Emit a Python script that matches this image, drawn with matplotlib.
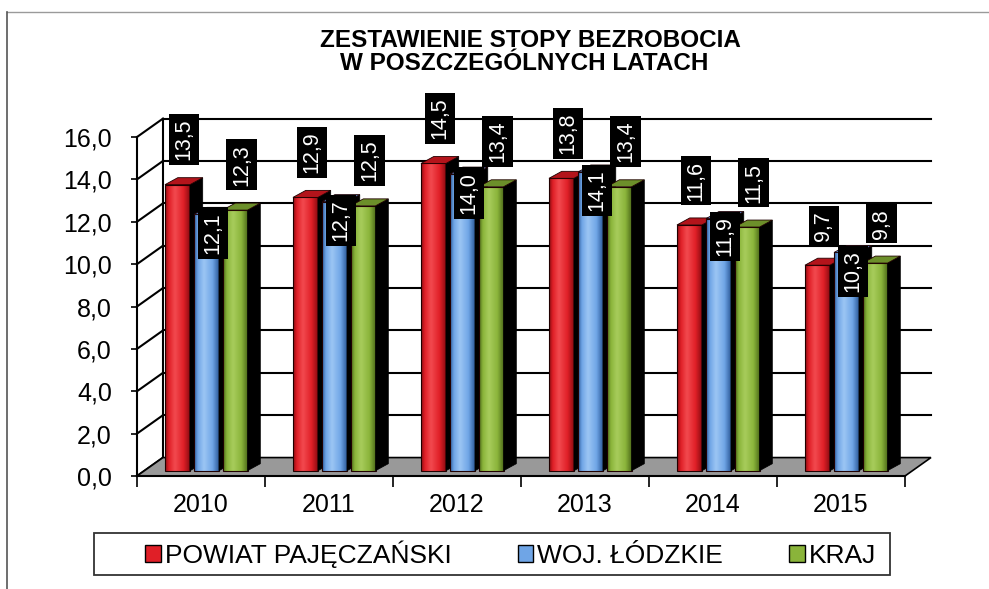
import numpy as np
import matplotlib
matplotlib.use("Agg")
import matplotlib.pyplot as plt
from matplotlib.patches import Polygon, Patch, Rectangle
from matplotlib.colors import LinearSegmentedColormap
from matplotlib.lines import Line2D

# ---- data ----
years = ['2010', '2011', '2012', '2013', '2014', '2015']
powiat = [13.5, 12.9, 14.5, 13.8, 11.6, 9.7]
woj = [12.1, 12.7, 14.0, 14.1, 11.9, 10.3]
kraj = [12.3, 12.5, 13.4, 13.4, 11.5, 9.8]
series_names = ['POWIAT PAJĘCZAŃSKI', 'WOJ. ŁÓDZKIE', 'KRAJ']
yticks = [0, 2, 4, 6, 8, 10, 12, 14, 16]
title1 = 'ZESTAWIENIE STOPY BEZROBOCIA'
title2 = 'W POSZCZEGÓLNYCH LATACH'

plt.rcParams['font.family'] = ['Liberation Sans', 'DejaVu Sans']

W, H = 989, 589
fig = plt.figure(figsize=(W / 100, H / 100), dpi=100)
fig.patch.set_facecolor('white')
ax = fig.add_axes([137 / W, 1 - 476 / H, 768 / W, 339 / H])
ax.set_xlim(-0.5, 5.5)
ax.set_ylim(0, 16)
ax.set_facecolor('none')

# 3D projection offsets (data units)
dxw, dyw = 0.203, 0.87      # wall depth
bdx, bdy = 0.10, 0.33       # bar depth
lift = 0.25                 # bars sit mid-depth on the floor
bw = 0.195
offsets = [-0.184, 0.043, 0.266]

# walls / gridlines
for v in yticks:
    ax.plot([-0.5, -0.5 + dxw], [v, v + dyw], color='black', lw=1.5, clip_on=False, zorder=1)
for v in yticks[1:]:
    ax.plot([-0.5 + dxw, 5.5 + dxw], [v + dyw, v + dyw], color='black', lw=1.5, clip_on=False, zorder=1)
ax.plot([-0.5 + dxw, -0.5 + dxw], [dyw, 16 + dyw], color='black', lw=1.5, clip_on=False, zorder=1)

# floor
floor = Polygon([(-0.5, 0), (5.5, 0), (5.5 + dxw, dyw), (-0.5 + dxw, dyw)],
                closed=True, fc='#999999', ec='black', lw=1.2, zorder=2, clip_on=False)
ax.add_patch(floor)

palettes = [
    dict(dark='#8e0c12', mid='#e01f27', light='#f24a4f', cap='#b3141b'),
    dict(dark='#2f5d9c', mid='#6fa5e6', light='#9cc6f4', cap='#5286cc'),
    dict(dark='#4d6a1a', mid='#8ab43a', light='#a8cc5c', cap='#6c8f2a'),
]


def draw_bar(x0, base, h, pal, z):
    cmap = LinearSegmentedColormap.from_list(
        'c', [(0, pal['dark']), (0.15, pal['mid']), (0.4, pal['light']),
              (0.75, pal['mid']), (1, pal['dark'])])
    grad = np.linspace(0, 1, 64).reshape(1, -1)
    ax.imshow(grad, extent=(x0, x0 + bw, base, base + h), cmap=cmap, aspect='auto',
              origin='lower', zorder=z, interpolation='bicubic')
    ax.add_patch(Rectangle((x0, base), bw, h, fill=False, ec='#200000', lw=0.8, zorder=z + 0.01))
    side = Polygon([(x0 + bw, base), (x0 + bw + bdx, base + bdy),
                    (x0 + bw + bdx, base + h + bdy), (x0 + bw, base + h)],
                   closed=True, fc='black', ec='black', lw=0.5, zorder=z + 0.02)
    ax.add_patch(side)
    cap = Polygon([(x0, base + h), (x0 + bw, base + h), (x0 + bw + bdx, base + h + bdy),
                   (x0 + bdx, base + h + bdy)],
                  closed=True, fc=pal['cap'], ec='#200000', lw=0.6, zorder=z + 0.03)
    ax.add_patch(cap)


def fmt(v):
    return f'{v:.1f}'.replace('.', ',')


series = [powiat, woj, kraj]
for i in range(len(years)):
    for j, vals in enumerate(series):
        v = vals[i]
        x0 = i + offsets[j] - bw / 2
        draw_bar(x0, lift, v, palettes[j], 3 + j * 0.1)
        top = lift + v
        xc = i + offsets[j] + 0.05
        box = dict(boxstyle='square,pad=0.22', fc='black', ec='none')
        if j == 1:
            ax.text(xc, top + 0.1, fmt(v), rotation=90, ha='center', va='top',
                    color='white', fontsize=15.5, bbox=box, zorder=10, clip_on=False)
        else:
            ax.text(xc, top + 1.15, fmt(v), rotation=90, ha='center', va='bottom',
                    color='white', fontsize=15.5, bbox=box, zorder=10, clip_on=False)

ax.set_xlim(-0.5, 5.5)
ax.set_ylim(0, 16)

# axes styling
for s in ['top', 'right']:
    ax.spines[s].set_visible(False)
for s in ['left', 'bottom']:
    ax.spines[s].set_linewidth(1.5)
    ax.spines[s].set_zorder(2.5)
ax.set_yticks(yticks)
ax.set_yticklabels([fmt(v) for v in yticks])
ax.tick_params(axis='y', length=4, width=1.2, pad=14, labelsize=18, direction='out')
ax.set_xticks(range(len(years)))
ax.set_xticklabels(years)
ax.tick_params(axis='x', which='major', length=0, pad=12, labelsize=18)
ax.set_xticks(np.arange(-0.5, 6, 1), minor=True)
ax.tick_params(axis='x', which='minor', length=8, width=1.2, direction='out')

# title
fig.text(530 / W, 1 - 47 / H, title1, ha='center', va='baseline', fontsize=17.5, fontweight='bold')
fig.text(524 / W, 1 - 70.5 / H, title2, ha='center', va='baseline', fontsize=17.5, fontweight='bold')

# legend
fig.add_artist(Rectangle((94 / W, 1 - 575 / H), 796 / W, 42 / H, transform=fig.transFigure,
                         fill=False, ec='#333333', lw=1.3))
handles = [Patch(fc=p['mid'], ec='black', lw=1) for p in palettes]
fig.legend(handles, series_names, loc='center left', bbox_to_anchor=(145 / W, 1 - 554 / H),
           ncol=3, frameon=False, fontsize=19, handlelength=0.6, handleheight=0.6,
           handletextpad=0.15, columnspacing=2.5, borderpad=0, borderaxespad=0)

# scan frame
fig.add_artist(Line2D([7 / W, 1], [1 - 12 / H, 1 - 12 / H], transform=fig.transFigure,
                      color='#9a9a9a', lw=1))
fig.add_artist(Line2D([7 / W, 7 / W], [0, 1 - 12 / H], transform=fig.transFigure,
                      color='#555555', lw=1.2))

fig.savefig('out.png', dpi=100)
